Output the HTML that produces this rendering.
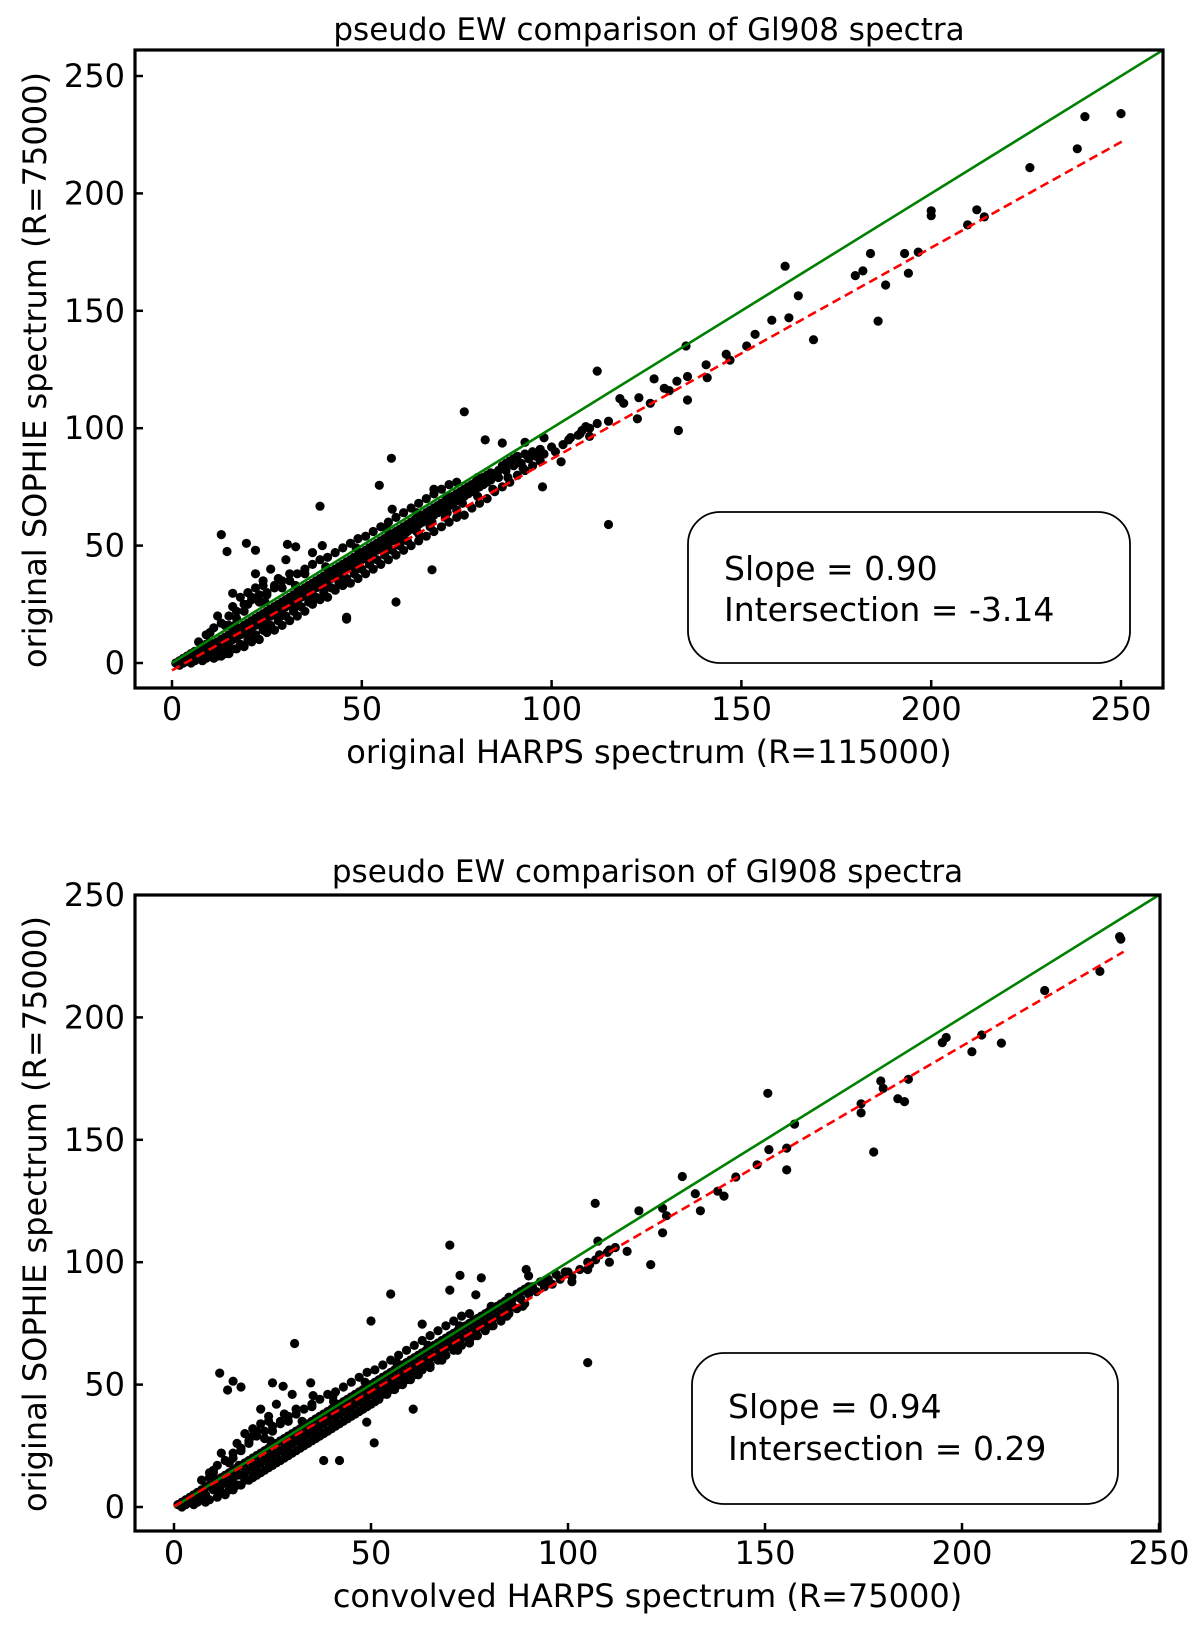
<!DOCTYPE html>
<html><head><meta charset="utf-8"><style>
html,body{margin:0;padding:0;background:#fff;}
svg text{font-family:"DejaVu Sans","Liberation Sans",sans-serif;fill:#000;}
</style></head><body>
<svg id="fig" width="1200" height="1628" viewBox="0 0 1200 1628" xmlns="http://www.w3.org/2000/svg"></svg>
<script>
// ---- data ----
const xTicks = [0, 50, 100, 150, 200, 250];
const yTicks = [0, 50, 100, 150, 200, 250];
const titles = ["pseudo EW comparison of Gl908 spectra", "pseudo EW comparison of Gl908 spectra"];
const xLabels = ["original HARPS spectrum (R=115000)", "convolved HARPS spectrum (R=75000)"];
const yLabel = "original SOPHIE spectrum (R=75000)";
const slopes = [0.90, 0.94];
const intercepts = [-3.14, 0.29];
const fitXmax = [251, 241];
const topBand = "1,0 2,1 2,-1 3,2 3,0 4,1 4,3 5,2 5,4 5,0 6,3 6,5 7,4 7,2 8,6 8,3 9,5 9,8 10,6 10,4 10,9 11,7 11,5 12,9 12,6 12,3 13,10 13,8 14,11 14,7 14,4 15,12 15,9 15,16 16,13 16,10 16,6 17,14 17,11 17,19 18,15 18,12 18,8 19,16 19,13 19,22 20,17 20,14 20,10 20,25 21,18 21,15 21,28 22,19 22,16 22,12 22,32 23,20 23,17 23,26 24,21 24,18 24,14 24,35 25,22 25,19 25,29 26,23 26,20 26,16 27,24 27,21 27,32 28,25 28,22 28,18 29,26 29,23 29,35 30,27 30,24 30,20 31,28 31,25 31,38 32,29 32,26 32,22 33,30 33,27 34,31 34,28 34,24 35,32 35,29 35,38 36,33 36,30 36,26 37,34 37,31 38,35 38,32 38,28 39,36 39,33 40,37 40,34 40,30 41,38 41,35 42,39 42,36 42,32 43,40 43,37 44,41 44,38 44,34 45,42 45,39 46,43 46,40 46,36 47,44 47,41 48,45 48,42 48,38 49,46 49,43 50,47 50,44 50,40 51,48 51,45 52,49 52,46 52,42 53,50 53,47 54,51 54,48 54,44 55,52 55,49 56,53 56,50 56,46 57,54 57,51 58,55 58,52 58,48 59,56 59,53 60,57 60,54 60,50 61,58 61,55 62,59 62,56 62,52 63,60 63,57 64,61 64,58 65,62 65,59 65,55 66,63 66,60 67,64 67,61 68,65 68,62 68,58 69,66 69,63 70,67 70,64 71,68 71,65 72,69 72,66 72,62 73,70 73,67 74,71 74,68 75,72 75,69 75,65 76,73 76,70 77,74 77,71 78,75 78,72 79,76 79,73 80,77 80,74 81,78 81,75 82,79 82,76 83,80 83,77 84,81 84,78 85,80 86,82 86,79 87,84 88,85 88,82 89,86 90,87 90,84 91,88 92,85 93,89 94,87 95,90 96,88 97,91 98,89 100,92 101,90 103,93 105,96 107,97 108,99 110,100 112,102";
const topSpread = "6,1 8,1 9,2 11,2 13,3 15,4 17,6 19,7 21,9 23,10 25,13 27,14 29,16 31,18 33,20 35,22 37,25 39,27 41,28 43,31 45,33 47,34 49,36 51,38 53,40 55,42 57,44 59,46 61,48 63,50 65,52 67,54 69,56 71,58 73,60 75,62 77,63 79,66 81,68 83,70 85,73 87,75 89,77 91,80 93,82 95,84 97,86 7,9 9,12 11,15 13,17 15,20 17,22 19,25 21,27 23,29 25,30 27,33 29,32 31,35 33,38 35,40 37,42 39,44 41,45 43,47 45,49 47,51 49,53 51,54 53,56 55,58 57,60 59,62 61,64 63,66 65,68 67,70 69,72 71,74 73,76 75,77 12,20 16,24 20,30 24,33 28,36 18,28 22,38 26,40 30,44 14,16 10,13 20.5,12 24.5,16 28.5,20 32.5,24 36.5,28 40.5,32 44.5,36 48.5,40 52.5,44 56.5,48 60.5,52 64.5,56 68.5,60 72.5,64 76.5,68 80.5,71 84.5,74 88.5,79 92.5,83 16.5,16 24.5,26 32.5,33 40.5,41 48.5,49 56.5,57 64.5,64 72.5,71 80.5,79";
const topOutliers = "250,234 240.5,232.7 238.5,219 226,211 200,192.6 200,190.5 212,193 209.6,186.6 214,190 161.5,169 184,174.4 182,167 180,165 193,174.4 188,161 194,166 196.6,175 186,145.6 165,156.4 158,146 162.5,147 169,137.7 153.6,140 151.4,135 146,131.5 147,129 140.7,127 141,121.5 135.4,135 135.8,122 133,120 135.8,112 133.4,99 131,116 127,121 126,110.6 129.7,117 112,124.3 77,107 123,113 122.6,104 119,110.6 118,112.6 115,103 109,100.7 110,96.5 107.5,97.6 104.5,95 102.5,85.7 98,95.9 93,94 87,93.7 82.5,95 97.6,75 115,59 57.8,87.2 54.6,75.7 58,65.5 69,74 39,66.8 13,54.7 14.5,47.5 19.6,51 22,48 30.4,50.5 32.6,49.5 37,47 39.6,50 59,26 68.5,39.7 46,19.5 46,18.7 16,29.7";
const botBand = "1,1 2,2 2,0 3,3 3,1 4,4 4,2 5,5 5,3 5,1 6,6 6,4 7,7 7,4 8,8 8,5 9,9 9,12 10,10 10,7 10,14 11,11 11,8 12,12 12,9 12,6 13,13 13,10 14,14 14,10 14,7 15,15 15,12 15,20 16,16 16,13 16,9 17,17 17,13 17,23 18,18 18,14 18,11 19,19 19,15 19,26 20,20 20,16 20,12 20,29 21,21 21,17 21,31 22,22 22,18 22,14 22,34 23,23 23,19 23,28 24,24 24,20 24,16 24,37 25,25 25,21 25,31 26,26 26,22 26,18 27,27 27,23 27,34 28,28 28,24 28,20 29,29 29,25 29,37 30,30 30,26 30,22 31,31 31,27 31,40 32,32 32,28 32,24 33,33 33,29 34,34 34,30 34,26 35,35 35,31 35,41 36,36 36,32 36,28 37,37 37,33 38,38 38,34 38,30 39,39 39,35 40,40 40,36 40,32 41,41 41,37 42,42 42,38 42,34 43,43 43,39 44,44 44,40 44,36 45,45 45,41 46,46 46,42 46,38 47,47 47,43 48,48 48,44 48,40 49,49 49,45 50,50 50,46 50,42 51,51 51,47 52,52 52,48 52,44 53,53 53,49 54,54 54,50 54,46 55,55 55,51 56,56 56,52 56,48 57,57 57,53 58,58 58,54 58,50 59,59 59,55 60,60 60,56 60,52 61,61 61,57 62,62 62,58 62,54 63,63 63,59 64,64 64,60 65,65 65,61 65,57 66,66 66,62 67,67 67,63 68,68 68,64 68,60 69,69 69,65 70,70 70,66 71,71 71,67 72,72 72,68 72,64 73,73 73,69 74,74 74,70 75,75 75,71 75,67 76,76 76,72 77,77 77,73 78,78 78,74 79,79 79,75 80,80 80,76 81,81 81,77 82,82 82,78 83,83 83,79 84,84 84,80 85,82 86,85 86,82 87,87 88,88 88,85 89,89 90,90 90,87 91,90 92,88 93,92 94,90 95,93 96,91 97,95 98,93 100,96 101,94 103,97 105,100 107,101 108,103 110,104 112,106";
const botSpread = "6,2 8,2 9,3 11,4 13,5 15,7 17,9 19,11 21,13 23,15 25,17 27,19 29,21 31,23 33,25 35,27 37,29 39,31 41,33 43,35 45,37 47,39 49,41 51,43 53,46 55,48 57,50 59,52 61,54 63,56 65,58 67,60 69,62 71,64 73,66 75,68 77,70 79,72 81,74 83,76 85,79 87,81 89,83 7,11 9,14 11,17 13,19 15,22 17,24 19,27 21,29 23,31 25,33 27,35 29,35 31,38 33,40 35,42 37,44 39,46 41,47 43,49 45,51 47,53 49,55 51,56 53,58 55,60 57,62 59,64 61,66 63,68 65,70 67,72 69,74 71,76 73,78 75,79 12,22 16,26 20,32 24,35 28,38 18,30 22,40 26,42 30,46 14,18 10,15 20.5,14 24.5,18 28.5,22 32.5,26 36.5,30 40.5,34 44.5,38 48.5,42 52.5,46 56.5,50 60.5,54 64.5,58 68.5,62 72.5,66 76.5,70 80.5,74 84.5,78 88.5,82 16.5,17 24.5,27 32.5,35 40.5,43 48.5,51 56.5,59 64.5,66 72.5,74 80.5,82";
const botOutliers = "240,233 240.3,232 235,218.8 221,211 195,189.7 196,191.8 205,192.8 202.5,186 210,189.5 150.7,169 179.4,174 180,171 174.4,164.7 174.4,161 183.7,166.8 185.4,165.6 186.4,174.7 177.6,145 157.5,156.4 151,146 155.5,146.6 155.5,137.7 148,139.8 142.6,134.8 138,129 139.6,127 129,135 132.3,128 133.6,121 124,122 125,119 124,112 121,99 106.9,124 107.6,108.6 110.5,105 110.5,100 115,104.4 118,121 105.5,99 105,97 99.3,96 101,92 89.4,97 90,94.4 85,85.7 70,107 72.6,94.6 78,93.6 70,88.6 76.6,86.7 55,87 50,76 63,74.7 105,59 30.6,66.8 11.6,54.7 13.6,47.8 15,51.4 17,49 25,50.7 27.7,49.3 34.7,50.7 35.3,45.5 40.3,45 50.8,26.2 60.7,40 42,19 38,19 48.9,34.7";

// ---- layout ----
const panels = [
  {left:135, right:1163, top:50, bottom:688, px0:172, sx:3.796, py0:663, sy:2.348, greenMax:261,
   titleY:40, xlabY:763, ylabCY:370, xtickY:720, box:[688,512,442,151], boxText:[724,580,621],
   data:[topBand, topSpread, topOutliers]},
  {left:135, right:1160, top:895, bottom:1531, px0:174, sx:3.94, py0:1507, sy:2.448, greenMax:250,
   titleY:882, xlabY:1607, ylabCY:1214, xtickY:1564, box:[692,1353,426,151], boxText:[728,1418,1460],
   data:[botBand, botSpread, botOutliers]}
];
const NS = "http://www.w3.org/2000/svg";
const svg = document.getElementById("fig");
function mk(tag, attrs, parent){
  const e = document.createElementNS(NS, tag);
  for (const k in attrs) e.setAttribute(k, attrs[k]);
  (parent||svg).appendChild(e);
  return e;
}
function parse(s){ return s.trim().split(/\s+/).map(p=>p.split(",").map(Number)); }

panels.forEach((P, i) => {
  const X = v => P.px0 + v*P.sx;
  const Y = v => P.py0 - v*P.sy;
  const g = mk("g", {});
  
  

  const pts = mk("g", {fill:"#000"}, g);
  
  
  P.data.forEach(str => parse(str).forEach(([x,y]) => {
    const c = mk("circle", {cx:X(x).toFixed(1), cy:Y(y).toFixed(1), r:4.6}, pts);
    
    
  }));

  const gl = mk("line", {x1:X(0), y1:Y(0), x2:X(P.greenMax), y2:Y(P.greenMax), stroke:"#008000", "stroke-width":2.6}, g);
  
  
  const rl = mk("line", {x1:X(0), y1:Y(intercepts[i]), x2:X(fitXmax[i]), y2:Y(slopes[i]*fitXmax[i]+intercepts[i]), stroke:"#ff0000", "stroke-width":2.6, "stroke-dasharray":"9,5"}, g);
  
  

  const fr = mk("rect", {x:P.left, y:P.top, width:P.right-P.left, height:P.bottom-P.top, fill:"none", stroke:"#000", "stroke-width":3.2}, g);
  
  

  xTicks.forEach(t => {
    const tk = mk("line", {x1:X(t), y1:P.bottom, x2:X(t), y2:P.bottom-8, stroke:"#000", "stroke-width":2.5}, g);
    
    
    const tl = mk("text", {x:X(t), y:P.xtickY, "font-size":32, "text-anchor":"middle"}, g);
    tl.textContent = t;
    
    
  });
  yTicks.forEach(t => {
    const tk = mk("line", {x1:P.left, y1:Y(t), x2:P.left+8, y2:Y(t), stroke:"#000", "stroke-width":2.5}, g);
    
    
    const tl = mk("text", {x:P.left-10, y:Y(t)+11, "font-size":32, "text-anchor":"end"}, g);
    tl.textContent = t;
    
    
  });

  const ti = mk("text", {x:(P.left+P.right)/2, y:P.titleY, "font-size":31, "text-anchor":"middle"}, g);
  ti.textContent = titles[i];
  
  
  const xl = mk("text", {x:(P.left+P.right)/2, y:P.xlabY, "font-size":32, "text-anchor":"middle"}, g);
  xl.textContent = xLabels[i];
  
  
  const yl = mk("text", {x:0, y:0, "font-size":32, "text-anchor":"middle", transform:`translate(46,${P.ylabCY}) rotate(-90)`}, g);
  yl.textContent = yLabel;
  
  

  const [bx,by,bw,bh] = P.box;
  const br = mk("rect", {x:bx, y:by, width:bw, height:bh, rx:32, ry:32, fill:"#fff", stroke:"#000", "stroke-width":1.8}, g);
  
  
  const t1 = mk("text", {x:P.boxText[0], y:P.boxText[1], "font-size":33}, g);
  t1.textContent = "Slope = " + slopes[i].toFixed(2);
  
  
  const t2 = mk("text", {x:P.boxText[0], y:P.boxText[2], "font-size":33}, g);
  t2.textContent = "Intersection = " + intercepts[i].toFixed(2);
  
  
});
</script>
</body></html>
